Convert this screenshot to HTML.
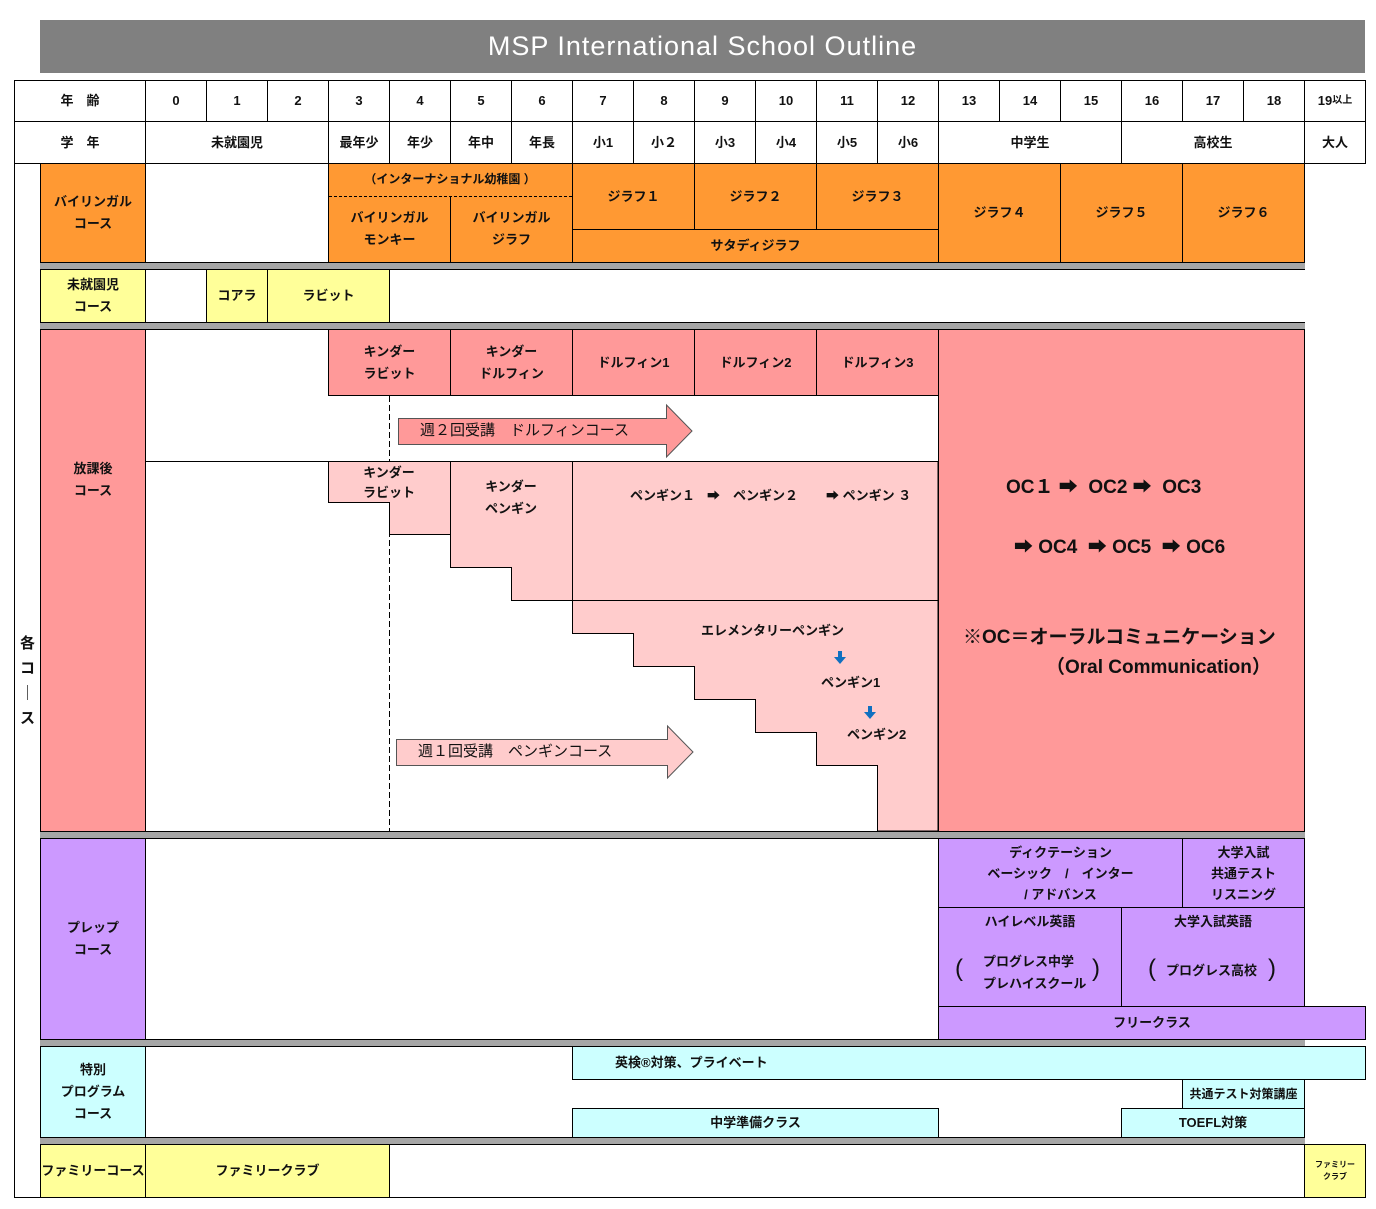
<!DOCTYPE html>
<html><head><meta charset="utf-8">
<style>
body{margin:0;width:1376px;height:1209px;background:#fff;position:relative;overflow:hidden;font-family:"Liberation Sans","Noto Sans CJK JP",sans-serif;}
.b{position:absolute;box-sizing:border-box;border:1px solid #000;display:flex;align-items:center;justify-content:center;text-align:center;font-size:13px;font-weight:bold;line-height:22px;color:#111;}
.t{position:absolute;font-size:13px;font-weight:bold;color:#111;white-space:nowrap;line-height:16px;}
.g{position:absolute;background:#a6a6a6;border-top:1px solid #000;border-bottom:1px solid #000;box-sizing:border-box;}
.o{background:#ff9933}.y{background:#ffff99}.p{background:#ff9999}.lp{background:#ffcccc}.v{background:#cc99ff}.c{background:#ccffff}
</style></head><body>
<div style="position:absolute;left:40px;top:20px;width:1325px;height:53px;background:#808080;color:#fff;font-size:27px;display:flex;align-items:center;justify-content:center;letter-spacing:1px;">MSP International School Outline</div>

<!-- header -->
<div class="b" style="left:14px;top:80px;width:132px;height:42px;">年　齢</div>
<div class="b" style="left:14px;top:121px;width:132px;height:43px;">学　年</div>
<div class="b" style="left:145px;top:80px;width:62px;height:42px;">0</div>
<div class="b" style="left:206px;top:80px;width:62px;height:42px;">1</div>
<div class="b" style="left:267px;top:80px;width:62px;height:42px;">2</div>
<div class="b" style="left:328px;top:80px;width:62px;height:42px;">3</div>
<div class="b" style="left:389px;top:80px;width:62px;height:42px;">4</div>
<div class="b" style="left:450px;top:80px;width:62px;height:42px;">5</div>
<div class="b" style="left:511px;top:80px;width:62px;height:42px;">6</div>
<div class="b" style="left:572px;top:80px;width:62px;height:42px;">7</div>
<div class="b" style="left:633px;top:80px;width:62px;height:42px;">8</div>
<div class="b" style="left:694px;top:80px;width:62px;height:42px;">9</div>
<div class="b" style="left:755px;top:80px;width:62px;height:42px;">10</div>
<div class="b" style="left:816px;top:80px;width:62px;height:42px;">11</div>
<div class="b" style="left:877px;top:80px;width:62px;height:42px;">12</div>
<div class="b" style="left:938px;top:80px;width:62px;height:42px;">13</div>
<div class="b" style="left:999px;top:80px;width:62px;height:42px;">14</div>
<div class="b" style="left:1060px;top:80px;width:62px;height:42px;">15</div>
<div class="b" style="left:1121px;top:80px;width:62px;height:42px;">16</div>
<div class="b" style="left:1182px;top:80px;width:62px;height:42px;">17</div>
<div class="b" style="left:1243px;top:80px;width:62px;height:42px;">18</div>
<div class="b" style="left:1304px;top:80px;width:62px;height:42px;">19<span style="font-size:10px">以上</span></div>
<div class="b" style="left:145px;top:121px;width:184px;height:43px;">未就園児</div>
<div class="b" style="left:328px;top:121px;width:62px;height:43px;">最年少</div>
<div class="b" style="left:389px;top:121px;width:62px;height:43px;">年少</div>
<div class="b" style="left:450px;top:121px;width:62px;height:43px;">年中</div>
<div class="b" style="left:511px;top:121px;width:62px;height:43px;">年長</div>
<div class="b" style="left:572px;top:121px;width:62px;height:43px;">小1</div>
<div class="b" style="left:633px;top:121px;width:62px;height:43px;">小２</div>
<div class="b" style="left:694px;top:121px;width:62px;height:43px;">小3</div>
<div class="b" style="left:755px;top:121px;width:62px;height:43px;">小4</div>
<div class="b" style="left:816px;top:121px;width:62px;height:43px;">小5</div>
<div class="b" style="left:877px;top:121px;width:62px;height:43px;">小6</div>
<div class="b" style="left:938px;top:121px;width:184px;height:43px;">中学生</div>
<div class="b" style="left:1121px;top:121px;width:184px;height:43px;">高校生</div>
<div class="b" style="left:1304px;top:121px;width:62px;height:43px;">大人</div>

<!-- left frame -->
<div class="b" style="left:14px;top:163px;width:27px;height:1035px;font-size:15px;line-height:25px;">各<br>コ<br>｜<br>ス</div>
<div style="position:absolute;left:40px;top:1197px;width:1265px;height:1px;background:#000"></div>

<!-- bilingual -->
<div class="b o" style="left:40px;top:163px;width:106px;height:100px;">バイリンガル<br>コース</div>
<div class="b o" style="left:328px;top:163px;width:245px;height:100px;border-bottom:none"></div>
<div class="t" style="left:328px;top:171px;width:244px;text-align:center;font-size:12px;">（インターナショナル幼稚園 ）</div>
<div class="b o" style="left:328px;top:196px;width:123px;height:67px;border-top:none">バイリンガル<br>モンキー</div>
<div class="b o" style="left:450px;top:196px;width:123px;height:67px;border-top:none">バイリンガル<br>ジラフ</div>
<div style="position:absolute;left:329px;top:196px;width:243px;border-top:1px dashed #000"></div>
<div class="b o" style="left:572px;top:163px;width:123px;height:67px;">ジラフ１</div>
<div class="b o" style="left:694px;top:163px;width:123px;height:67px;">ジラフ２</div>
<div class="b o" style="left:816px;top:163px;width:123px;height:67px;">ジラフ３</div>
<div class="b o" style="left:572px;top:229px;width:367px;height:34px;">サタディジラフ</div>
<div class="b o" style="left:938px;top:163px;width:123px;height:100px;">ジラフ４</div>
<div class="b o" style="left:1060px;top:163px;width:123px;height:100px;">ジラフ５</div>
<div class="b o" style="left:1182px;top:163px;width:123px;height:100px;">ジラフ６</div>
<div class="g" style="left:40px;top:262px;width:1265px;height:8px;"></div>

<!-- 未就園児 -->
<div class="b y" style="left:40px;top:269px;width:106px;height:54px;">未就園児<br>コース</div>
<div class="b y" style="left:206px;top:269px;width:62px;height:54px;">コアラ</div>
<div class="b y" style="left:267px;top:269px;width:123px;height:54px;">ラビット</div>
<div class="g" style="left:40px;top:322px;width:1265px;height:8px;"></div>

<!-- 放課後 -->
<div class="b p" style="left:40px;top:329px;width:106px;height:503px;align-items:flex-start;padding-top:128px;">放課後<br>コース</div>
<div style="position:absolute;left:145px;top:329px;width:1px;height:503px;background:#000"></div>
<div class="b p" style="left:328px;top:329px;width:123px;height:67px;">キンダー<br>ラビット</div>
<div class="b p" style="left:450px;top:329px;width:123px;height:67px;">キンダー<br>ドルフィン</div>
<div class="b p" style="left:572px;top:329px;width:123px;height:67px;">ドルフィン1</div>
<div class="b p" style="left:694px;top:329px;width:123px;height:67px;">ドルフィン2</div>
<div class="b p" style="left:816px;top:329px;width:123px;height:67px;">ドルフィン3</div>
<div class="b p" style="left:938px;top:329px;width:367px;height:503px;"></div>
<svg style="position:absolute;left:0;top:0" width="1376" height="1209">
<line x1="389.5" y1="396" x2="389.5" y2="831" stroke="#000" stroke-dasharray="6,3"/>
<line x1="145" y1="461.5" x2="938" y2="461.5" stroke="#000"/>
<polygon points="328.5,461.5 938,461.5 938,831 877.5,831 877.5,765.5 816.5,765.5 816.5,732.5 755.5,732.5 755.5,699.5 694.5,699.5 694.5,666.5 633.5,666.5 633.5,633.5 572.5,633.5 572.5,600.5 511.5,600.5 511.5,567.5 450.5,567.5 450.5,534.5 389.5,534.5 389.5,502.5 328.5,502.5" fill="#ffcccc" stroke="#000"/>
<line x1="450.5" y1="461" x2="450.5" y2="567" stroke="#000"/>
<line x1="572.5" y1="461" x2="572.5" y2="600" stroke="#000"/>
<line x1="572" y1="600.5" x2="938" y2="600.5" stroke="#000"/>
<polygon points="398.5,418.5 666.5,418.5 666.5,405 692,431 666.5,457 666.5,444.5 398.5,444.5" fill="#ff9999" stroke="#555"/>
<polygon points="396.5,739.5 667.5,739.5 667.5,726 693,752 667.5,778 667.5,765.5 396.5,765.5" fill="#ffcccc" stroke="#555"/>
<path d="M838 651v6h-4l6 7 6-7h-4v-6z" fill="#1070c0"/>
<path d="M868 706v6h-4l6 7 6-7h-4v-6z" fill="#1070c0"/>
</svg>
<div class="t" style="left:420px;top:423px;font-weight:normal;font-size:15px;">週２回受講　ドルフィンコース</div>
<div class="t" style="left:418px;top:744px;font-weight:normal;font-size:15px;">週１回受講　ペンギンコース</div>
<div class="t" style="left:328px;top:463px;width:122px;text-align:center;line-height:20px;">キンダー<br>ラビット</div>
<div class="t" style="left:450px;top:476px;width:122px;text-align:center;line-height:22px;">キンダー<br>ペンギン</div>
<div class="t" style="left:630px;top:488px;">ペンギン１</div>
<div class="t" style="left:707px;top:488px;">➡</div>
<div class="t" style="left:733px;top:488px;">ペンギン２</div>
<div class="t" style="left:826px;top:488px;">➡ ペンギン ３</div>
<div class="t" style="left:701px;top:623px;">エレメンタリーペンギン</div>
<div class="t" style="left:821px;top:675px;">ペンギン1</div>
<div class="t" style="left:847px;top:727px;">ペンギン2</div>
<div class="t" style="left:1006px;top:477px;font-size:19px;line-height:22px;">OC１ ➡ &nbsp;OC2 ➡ &nbsp;OC3</div>
<div class="t" style="left:1014px;top:537px;font-size:19px;line-height:22px;">➡ OC4 &nbsp;➡ OC5 &nbsp;➡ OC6</div>
<div class="t" style="left:963px;top:627px;font-size:19px;line-height:22px;">※OC＝オーラルコミュニケーション</div>
<div class="t" style="left:1046px;top:657px;font-size:19px;line-height:22px;">（Oral Communication）</div>
<div class="g" style="left:40px;top:831px;width:1265px;height:8px;"></div>

<!-- prep -->
<div class="b v" style="left:40px;top:838px;width:106px;height:202px;">プレップ<br>コース</div>
<div style="position:absolute;left:145px;top:838px;width:1px;height:202px;background:#000"></div>
<div class="b v" style="left:938px;top:838px;width:245px;height:70px;line-height:21px;">ディクテーション<br>ベーシック　/　インター<br>/ アドバンス</div>
<div class="b v" style="left:1182px;top:838px;width:123px;height:70px;line-height:21px;">大学入試<br>共通テスト<br>リスニング</div>
<div class="b v" style="left:938px;top:907px;width:184px;height:100px;"></div>
<div class="t" style="left:938px;top:914px;width:184px;text-align:center;">ハイレベル英語</div>
<div class="t" style="left:983px;top:951px;line-height:22px;">プログレス中学<br>プレハイスクール</div>
<div class="t" style="left:955px;top:954px;font-size:24px;font-weight:normal;line-height:30px;">(</div>
<div class="t" style="left:1092px;top:954px;font-size:24px;font-weight:normal;line-height:30px;">)</div>
<div class="b v" style="left:1121px;top:907px;width:184px;height:100px;"></div>
<div class="t" style="left:1121px;top:914px;width:184px;text-align:center;">大学入試英語</div>
<div class="t" style="left:1166px;top:963px;">プログレス高校</div>
<div class="t" style="left:1148px;top:954px;font-size:24px;font-weight:normal;line-height:30px;">(</div>
<div class="t" style="left:1268px;top:954px;font-size:24px;font-weight:normal;line-height:30px;">)</div>
<div class="b v" style="left:938px;top:1006px;width:428px;height:34px;">フリークラス</div>
<div class="g" style="left:40px;top:1039px;width:1265px;height:8px;"></div>

<!-- special -->
<div class="b c" style="left:40px;top:1046px;width:106px;height:92px;">特別<br>プログラム<br>コース</div>
<div style="position:absolute;left:145px;top:1046px;width:1px;height:92px;background:#000"></div>
<div class="b c" style="left:572px;top:1046px;width:794px;height:34px;justify-content:flex-start;padding-left:42px;">英検®対策、プライベート</div>
<div class="b c" style="left:1182px;top:1079px;width:123px;height:30px;font-size:12px;">共通テスト対策講座</div>
<div class="b c" style="left:572px;top:1108px;width:367px;height:30px;">中学準備クラス</div>
<div class="b c" style="left:1121px;top:1108px;width:184px;height:30px;">TOEFL対策</div>
<div class="g" style="left:40px;top:1137px;width:1265px;height:8px;"></div>

<!-- family -->
<div class="b y" style="left:40px;top:1144px;width:106px;height:54px;">ファミリーコース</div>
<div class="b y" style="left:145px;top:1144px;width:245px;height:54px;">ファミリークラブ</div>
<div class="b y" style="left:1304px;top:1144px;width:62px;height:54px;font-size:8px;line-height:12px;">ファミリー<br>クラブ</div>
</body></html>
